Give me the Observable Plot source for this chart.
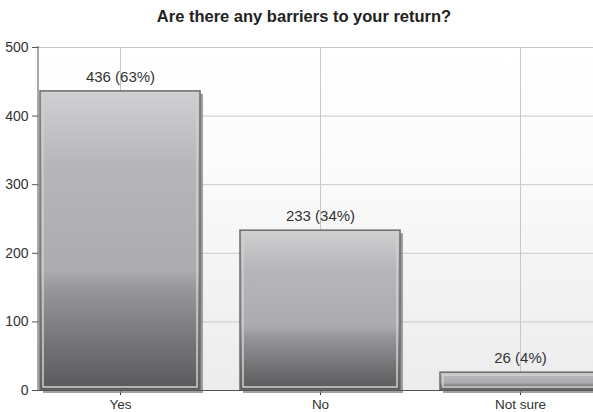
<!DOCTYPE html>
<html>
<head>
<meta charset="utf-8">
<script src="https://cdn.jsdelivr.net/npm/d3@7"></script>
<script src="https://cdn.jsdelivr.net/npm/@observablehq/plot@0.6"></script>
<style>
  html, body { margin: 0; padding: 0; background: #fff; overflow: hidden; width: 593px; height: 412px; }
  #title { font-family: "Liberation Sans", Arial, sans-serif; font-weight: bold; font-size: 16.5px; color: #222; text-align: center; height: 35px; line-height: 32px; padding-left: 15px; }
</style>
</head>
<body>
<div id="title">Are there any barriers to your return?</div>
<div id="chart"></div>
<script>
const categories = ["Yes", "No", "Not sure"];
const counts = [436, 233, 26];
const percents = [63, 34, 4];
const yTicks = [0, 100, 200, 300, 400, 500];

const data = categories.map((c, i) => ({cat: c, n: counts[i], label: `${counts[i]} (${percents[i]}%)`}));

const plot = Plot.plot({
  width: 593,
  height: 377,
  marginTop: 12,
  marginBottom: 22,
  marginLeft: 38,
  marginRight: 0,
  style: {fontFamily: "'Liberation Sans', Arial, sans-serif", fontSize: "13.5px", color: "#333", background: "transparent", overflow: "hidden"},
  x: {domain: categories, range: [38, 602], paddingInner: 0.2, paddingOuter: 0.01, label: null, tickSize: 5, tickPadding: 4},
  y: {domain: [0, 500], ticks: yTicks, label: null, tickSize: 6},
  marks: [
    Plot.frame({fill: "url(#bgGrad)", stroke: "none"}),
    Plot.gridY(yTicks, {stroke: "#c8c8c8", strokeOpacity: 1}),
    Plot.gridX({stroke: "#c8c8c8", strokeOpacity: 1}),
    Plot.barY(data, {x: "cat", y: "n", fill: "#8a8a8a", fillOpacity: 0.8, dx: 3, dy: 3}),
    Plot.barY(data, {x: "cat", y: "n", fill: "url(#barGrad)", stroke: "#6a6a6a", strokeWidth: 1.5}),
    Plot.barY(data, {x: "cat", y: "n", fill: "none", stroke: "#d0d0d2", strokeWidth: 1.5, insetLeft: 3, insetRight: 3, insetTop: 3, insetBottom: 3}),
    Plot.text(data, {x: "cat", y: "n", text: "label", dy: -14, fontSize: 15, fill: "#333"}),
    Plot.ruleY([0], {stroke: "#555", strokeWidth: 1}),
    Plot.axisY({ticks: yTicks, tickSize: 6, tickPadding: 4, stroke: "#555", fill: "#333", fontSize: 14})
  ]
});

const svg = d3.select(plot);
const defs = svg.insert("defs", ":first-child");
const bg = defs.append("linearGradient").attr("id", "bgGrad").attr("x1", 0).attr("y1", 0).attr("x2", 0).attr("y2", 1);
bg.append("stop").attr("offset", "0%").attr("stop-color", "#ffffff");
bg.append("stop").attr("offset", "35%").attr("stop-color", "#fbfbfb");
bg.append("stop").attr("offset", "100%").attr("stop-color", "#ececec");
const bar = defs.append("linearGradient").attr("id", "barGrad").attr("x1", 0).attr("y1", 0).attr("x2", 0).attr("y2", 1);
[["0%", "#d0d0d2"], ["25%", "#b6b6ba"], ["60%", "#acacb0"], ["67%", "#959599"], ["100%", "#58585a"]]
  .forEach(([o, c]) => bar.append("stop").attr("offset", o).attr("stop-color", c));

// y-axis line along the left edge of the frame, from the y scale
const ys = plot.scale("y");
svg.append("line")
  .attr("x1", 38).attr("x2", 38)
  .attr("y1", ys.range[0]).attr("y2", ys.range[1] - 1)
  .attr("stroke", "#555");

document.getElementById("chart").appendChild(plot);
</script>
</body>
</html>
